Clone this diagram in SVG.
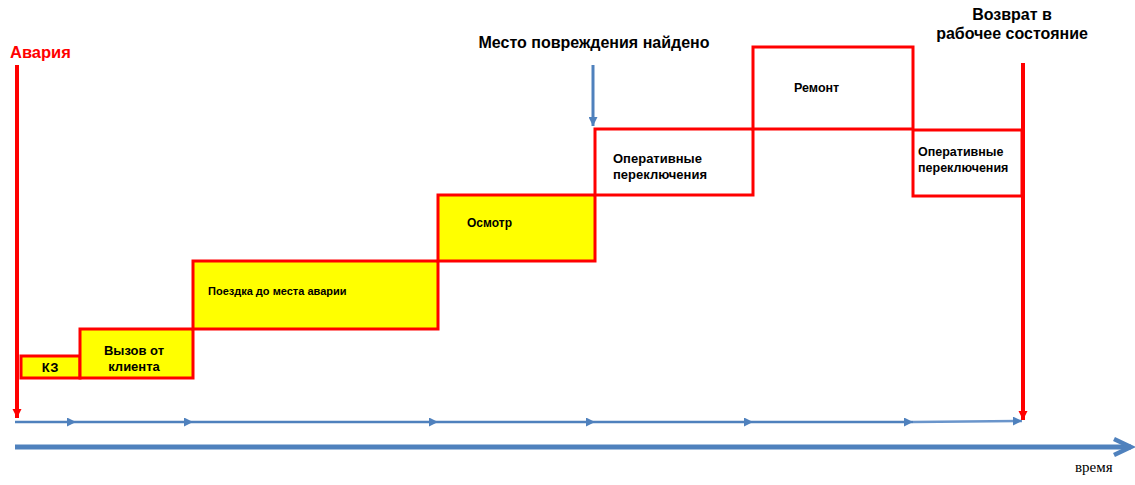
<svg xmlns="http://www.w3.org/2000/svg" width="1135" height="485" viewBox="0 0 1135 485">
<style>
.box{stroke:#FF0000;stroke-width:3}
.y{fill:#FFFF00}
.w{fill:#FFFFFF}
.lbl{font-family:"Liberation Sans",Arial,sans-serif;font-weight:bold;fill:#000}
.ttl{font-family:"Liberation Sans",Arial,sans-serif;font-weight:bold;font-size:16px;fill:#000}
.tl{stroke:#4F81BD;stroke-width:2.5;fill:none}
</style>
<defs>
<marker id="tri" viewBox="0 0 10 10" refX="10" refY="5" markerWidth="11" markerHeight="9" markerUnits="userSpaceOnUse" orient="auto">
<path d="M0,0 L10,5 L0,10 z" fill="#4F81BD"/>
</marker>
<marker id="redtri" viewBox="0 0 10 10" refX="10" refY="5" markerWidth="9" markerHeight="10" markerUnits="userSpaceOnUse" orient="auto">
<path d="M0,0 L10,5 L0,10 z" fill="#FF0000"/>
</marker>
</defs>

<g id="connectors">
<line x1="15" y1="422" x2="76" y2="422" class="tl" marker-end="url(#tri)"/>
<line x1="76" y1="422" x2="193" y2="422" class="tl" marker-end="url(#tri)"/>
<line x1="193" y1="422" x2="438" y2="422" class="tl" marker-end="url(#tri)"/>
<line x1="438" y1="422" x2="595" y2="422" class="tl" marker-end="url(#tri)"/>
<line x1="595" y1="422" x2="753" y2="422" class="tl" marker-end="url(#tri)"/>
<line x1="753" y1="422" x2="913" y2="422" class="tl" marker-end="url(#tri)"/>
<line x1="913" y1="422" x2="1022" y2="421" class="tl" style="stroke:#6A95CB" marker-end="url(#tri)"/>
<line x1="15" y1="447" x2="1131" y2="447" stroke="#4F81BD" stroke-width="5"/>
<polyline points="1114,439 1131,447 1114,455" fill="none" stroke="#4F81BD" stroke-width="4.5" stroke-linejoin="miter"/>
<line x1="593" y1="65" x2="593" y2="126" stroke="#4F81BD" stroke-width="3" marker-end="url(#tri)"/>
<line x1="17" y1="65" x2="17" y2="418" stroke="#FF0000" stroke-width="4" marker-end="url(#redtri)"/>
<line x1="1023" y1="63" x2="1023" y2="420" stroke="#FF0000" stroke-width="4" marker-end="url(#redtri)"/>
</g>

<g id="kz">
<rect x="21" y="356" width="59" height="22" class="box y"/>
<text x="50" y="372" class="lbl" font-size="13" text-anchor="middle">КЗ</text>
</g>
<g id="call">
<rect x="80" y="329" width="113" height="49" class="box y"/>
<text x="134" y="355" class="lbl" font-size="13" text-anchor="middle">Вызов от</text>
<text x="134" y="371" class="lbl" font-size="13" text-anchor="middle">клиента</text>
</g>
<g id="trip">
<rect x="193" y="261" width="245" height="68" class="box y"/>
<text x="208" y="295" class="lbl" font-size="11">Поездка до места аварии</text>
</g>
<g id="inspect">
<rect x="438" y="195" width="157" height="66" class="box y"/>
<text x="467" y="227" class="lbl" font-size="12">Осмотр</text>
</g>
<g id="switch1">
<rect x="595" y="129" width="158" height="66" class="box w"/>
<text x="613" y="163" class="lbl" font-size="13">Оперативные</text>
<text x="613" y="179" class="lbl" font-size="13">переключения</text>
</g>
<g id="repair">
<rect x="753" y="47" width="160" height="82" class="box w"/>
<text x="794" y="92" class="lbl" font-size="12.5">Ремонт</text>
</g>
<g id="switch2">
<rect x="913" y="130" width="109" height="66" class="box w"/>
<text x="918" y="156" class="lbl" font-size="12.5">Оперативные</text>
<text x="918" y="172" class="lbl" font-size="12.5">переключения</text>
</g>

<g id="titles">
<text x="10" y="58" font-family="Liberation Sans,Arial,sans-serif" font-weight="bold" font-size="16.5" fill="#FF0000">Авария</text>
<text x="594" y="48" class="ttl" text-anchor="middle">Место повреждения найдено</text>
<text x="1012" y="20" class="ttl" text-anchor="middle">Возврат в</text>
<text x="1012" y="39" class="ttl" text-anchor="middle">рабочее состояние</text>
<text x="1075" y="472" font-family="Liberation Serif,Times New Roman,serif" font-size="15" fill="#000">время</text>
</g>
</svg>
